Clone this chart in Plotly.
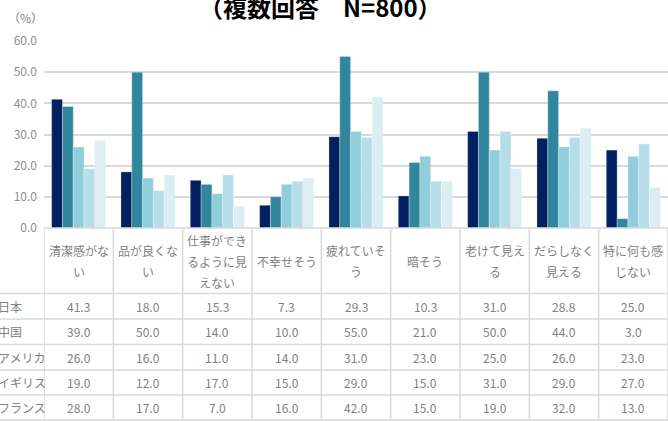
import plotly.graph_objects as go

categories = ["清潔感がない", "品が良くない", "仕事ができるように見えない", "不幸せそう",
              "疲れていそう", "暗そう", "老けて見える", "だらしなく見える", "特に何も感じない"]
header_lines = [["清潔感がな", "い"], ["品が良くな", "い"], ["仕事ができ", "るように見", "えない"],
                ["不幸せそう"], ["疲れていそ", "う"], ["暗そう"], ["老けて見え", "る"],
                ["だらしなく", "見える"], ["特に何も感", "じない"]]
series_names = ["日本", "中国", "アメリカ", "イギリス", "フランス"]
japan = [41.3, 18.0, 15.3, 7.3, 29.3, 10.3, 31.0, 28.8, 25.0]
china = [39.0, 50.0, 14.0, 10.0, 55.0, 21.0, 50.0, 44.0, 3.0]
usa = [26.0, 16.0, 11.0, 14.0, 31.0, 23.0, 25.0, 26.0, 23.0]
uk = [19.0, 12.0, 17.0, 15.0, 29.0, 15.0, 31.0, 29.0, 27.0]
france = [28.0, 17.0, 7.0, 16.0, 42.0, 15.0, 19.0, 32.0, 13.0]
series_values = [japan, china, usa, uk, france]
colors = ["#002060", "#31859C", "#92CDDC", "#B7DEE8", "#DAEEF3"]
y_ticks = [0, 10, 20, 30, 40, 50, 60]
title_text = "（複数回答　N=800）"

W, H = 668, 422
L, R, T, B = 44, 0, 41, 194
PW, PH = W - L - R, H - T - B
FONT = "Noto Sans CJK JP"
GRID = "#d9d9d9"
TXT = "#808080"


def px(xp):
    return (xp - L) / PW


def py(yp):
    return (H - B - yp) / PH


fig = go.Figure()
for name, vals, col in zip(series_names, series_values, colors):
    fig.add_trace(go.Bar(x=list(range(len(categories))), y=vals, name=name,
                         marker=dict(color=col, line=dict(width=0.5, color="rgba(255,255,255,0.6)")),
                         hoverinfo="y"))

shapes = []
annotations = []
n = len(categories)
# table vertical lines
for i in range(n + 1):
    shapes.append(dict(type="line", xref="x", yref="paper", x0=i - 0.5, x1=i - 0.5,
                       y0=py(228), y1=py(420), line=dict(color=GRID, width=1.5)))
# table horizontal lines
row_lines = [293.5, 319, 344.5, 370, 395, 420]
for yl in row_lines:
    shapes.append(dict(type="line", xref="paper", yref="paper", x0=px(0), x1=1,
                       y0=py(yl), y1=py(yl), line=dict(color=GRID, width=1.5)))
# axis line
shapes.append(dict(type="line", xref="paper", yref="paper", x0=0, x1=1, y0=0, y1=0,
                   line=dict(color=GRID, width=1.5)))

# header labels
for i, lines in enumerate(header_lines):
    k = len(lines)
    for j, t in enumerate(lines):
        yc = 261 + (j - (k - 1) / 2) * 21
        annotations.append(dict(x=i, y=py(yc), xref="x", yref="paper", text=t, showarrow=False,
                                font=dict(family=FONT, size=12, color=TXT),
                                xanchor="center", yanchor="middle"))
# rows
row_centers = [306, 331, 357, 382, 407]
for r, (name, vals) in enumerate(zip(series_names, series_values)):
    annotations.append(dict(x=px(-4), y=py(row_centers[r]), xref="paper", yref="paper", text=name,
                            showarrow=False, font=dict(family=FONT, size=12, color=TXT),
                            xanchor="left", yanchor="middle"))
    for i, v in enumerate(vals):
        annotations.append(dict(x=i, y=py(row_centers[r]), xref="x", yref="paper", text=f"{v:.1f}",
                                showarrow=False, font=dict(family=FONT, size=12, color=TXT),
                                xanchor="center", yanchor="middle"))

annotations.append(dict(x=px(6), y=py(18), xref="paper", yref="paper", text="（%）",
                        showarrow=False, font=dict(family=FONT, size=12, color=TXT),
                        xanchor="left", yanchor="middle"))
annotations.append(dict(x=px(320), y=py(7), xref="paper", yref="paper", text="<b>" + title_text + "</b>",
                        showarrow=False, font=dict(family=FONT, size=24, color="#000000"),
                        xanchor="center", yanchor="middle"))

fig.update_layout(
    width=W, height=H,
    margin=dict(l=L, r=R, t=T, b=B, pad=0),
    paper_bgcolor="white", plot_bgcolor="white",
    barmode="group", bargap=0.22, bargroupgap=0,
    showlegend=False,
    xaxis=dict(range=[-0.5, n - 0.5], showticklabels=False, showgrid=False, zeroline=False,
               showline=False, ticks="", fixedrange=True),
    yaxis=dict(range=[0, 60], tickvals=y_ticks, ticktext=[f"{t:.1f}" for t in y_ticks],
               showgrid=True, gridcolor=GRID, gridwidth=1.5, zeroline=False, showline=False,
               tickfont=dict(family=FONT, size=12, color="#8c8c8c"), ticks="", ticklabelstandoff=6,
               fixedrange=True),
    shapes=shapes, annotations=annotations,
)
fig.write_html("out.html")
